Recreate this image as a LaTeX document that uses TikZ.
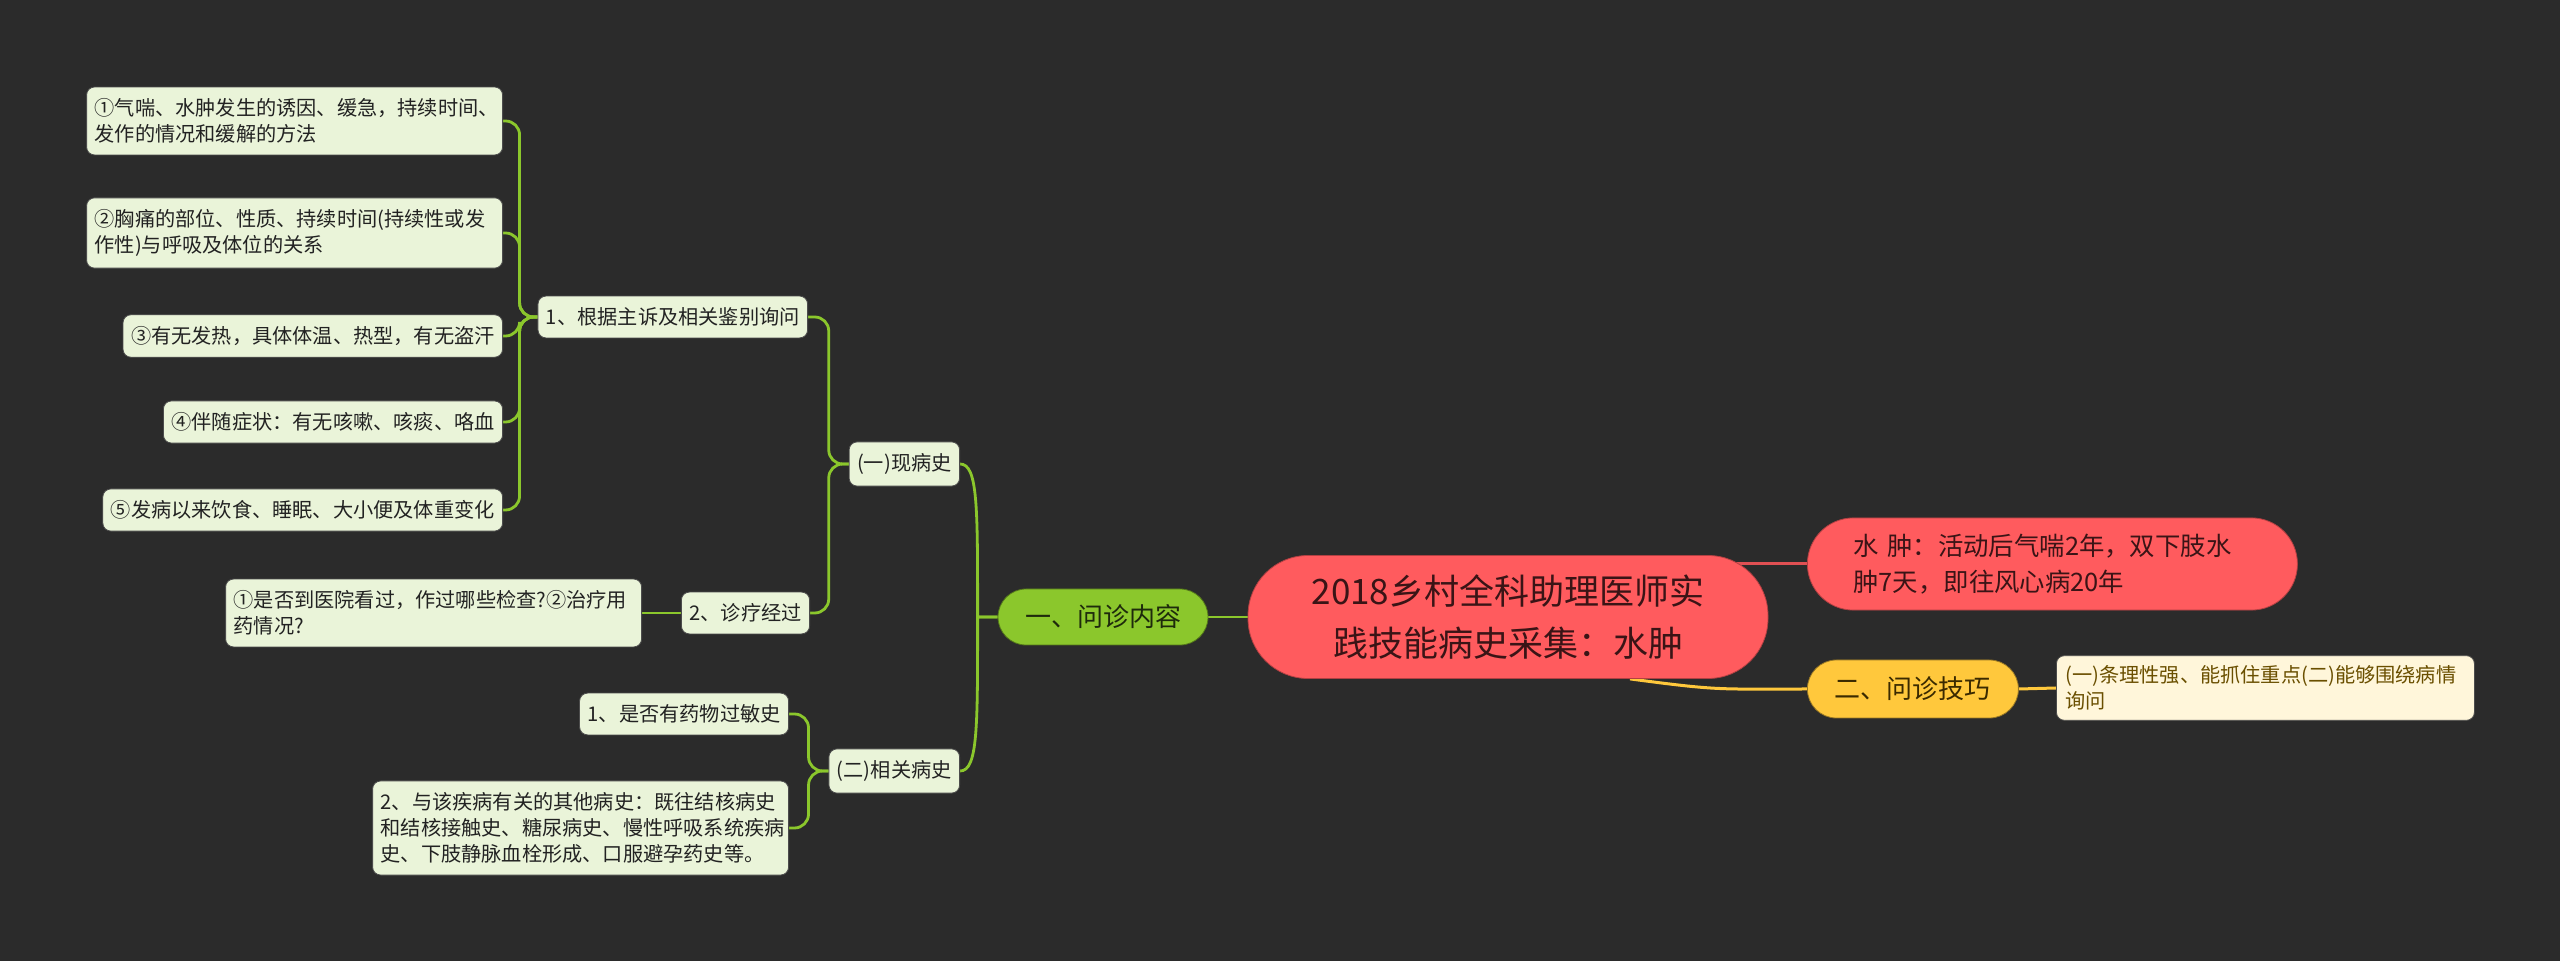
\documentclass[tikz,border=0pt]{standalone}
\usepackage{fontspec}
\setmainfont{Noto Sans CJK SC}
\usetikzlibrary{backgrounds}

\definecolor{bgdark}{HTML}{2B2B2B}
\definecolor{rootred}{HTML}{FF5B5E}
\definecolor{redtext}{HTML}{3A1416}
\definecolor{lvgreen}{HTML}{8BC72C}
\definecolor{greentext}{HTML}{1E2A0C}
\definecolor{leafgreen}{HTML}{EAF4D9}
\definecolor{leaftext}{HTML}{222222}
\definecolor{topicyel}{HTML}{FFC83C}
\definecolor{yeltext}{HTML}{3A2A00}
\definecolor{creamfill}{HTML}{FFF6DA}
\definecolor{creamtext}{HTML}{6A4F00}

\tikzset{
  root/.style={fill=rootred, draw=rootred!70!black, line width=0.4pt, text=redtext,
    rounded corners=30pt, minimum width=260pt, minimum height=61.5pt,
    align=center, font=\fontsize{17.5}{26}\selectfont},
  redtopic/.style={fill=rootred, draw=rootred!70!black, line width=0.4pt, text=redtext,
    rounded corners=23pt, text width=199pt, inner xsep=23pt, inner ysep=8pt,
    align=left, font=\fontsize{12.7}{18}\selectfont},
  greentopic/.style={fill=lvgreen, draw=lvgreen!60!black, line width=0.4pt, text=greentext,
    rounded corners=14pt, minimum width=105pt, minimum height=28pt,
    font=\fontsize{13}{16}\selectfont},
  yeltopic/.style={fill=topicyel, draw=topicyel!60!black, line width=0.4pt, text=yeltext,
    rounded corners=14.5pt, minimum width=105.5pt, minimum height=29pt,
    font=\fontsize{13}{16}\selectfont},
  leaf/.style={fill=leafgreen, draw=black!70, line width=0.4pt, text=leaftext,
    rounded corners=4pt, inner xsep=4pt, inner ysep=5.8pt, align=left,
    font=\fontsize{10.1}{13}\selectfont},
  wideleaf/.style={leaf, text width=200pt},
  creamleaf/.style={fill=creamfill, draw=black!70, line width=0.4pt, text=creamtext,
    rounded corners=4pt, inner xsep=4.5pt, inner ysep=5pt, text width=200pt,
    align=left, font=\fontsize{10.1}{13}\selectfont},
  elbow/.style={draw=lvgreen, line width=1.4pt, rounded corners=7pt},
  curvy/.style={draw=lvgreen, line width=1.4pt},
  redconn/.style={draw=rootred!88!black, line width=1.5pt},
  yelconn/.style={draw=topicyel, line width=1.5pt},
}

\begin{document}
\begin{tikzpicture}[x=0.5pt,y=-0.5pt]
  \useasboundingbox (0,0) rectangle (2560,961);
  \begin{scope}[on background layer]
    \fill[bgdark] (0,0) rectangle (2560,961);
  \end{scope}

  % centre and right side
  \node[root] (root) at (1508,617) {2018乡村全科助理医师实\\践技能病史采集：水肿};
  \node[redtopic, anchor=west] (shz) at (1807,564) {水 肿：活动后气喘2年，双下肢水\\肿7天，即往风心病20年};
  \node[yeltopic, anchor=west] (jq) at (1807,689) {二、问诊技巧};
  \node[creamleaf, anchor=west] (jqy) at (2056,688) {(一)条理性强、能抓住重点(二)能够围绕病情\\询问};

  % left side
  \node[greentopic] (nr) at (1103,617) {一、问诊内容};
  \node[leaf, anchor=east] (xbs) at (960,464) {(一)现病史};
  \node[leaf, anchor=east] (xgbs) at (960,771) {(二)相关病史};

  \node[leaf, anchor=east] (zs) at (808,317) {1、根据主诉及相关鉴别询问};
  \node[leaf, anchor=east] (zl) at (810,613) {2、诊疗经过};

  \node[wideleaf, anchor=east] (zsa) at (503,121) {①气喘、水肿发生的诱因、缓急，持续时间、\\发作的情况和缓解的方法};
  \node[wideleaf, anchor=east] (zsb) at (503,233) {②胸痛的部位、性质、持续时间(持续性或发\\作性)与呼吸及体位的关系};
  \node[leaf, anchor=east] (zsc) at (503,336) {③有无发热，具体体温、热型，有无盗汗};
  \node[leaf, anchor=east] (zsd) at (503,422) {④伴随症状：有无咳嗽、咳痰、咯血};
  \node[leaf, anchor=east] (zse) at (503,510) {⑤发病以来饮食、睡眠、大小便及体重变化};

  \node[wideleaf, anchor=east] (zla) at (642,613) {①是否到医院看过，作过哪些检查?②治疗用\\药情况?};

  \node[leaf, anchor=east] (gm) at (789,714) {1、是否有药物过敏史};
  \node[wideleaf, anchor=east] (qt) at (789,828) {2、与该疾病有关的其他病史：既往结核病史\\和结核接触史、糖尿病史、慢性呼吸系统疾病\\史、下肢静脉血栓形成、口服避孕药史等。};

  \begin{scope}[on background layer]
    \draw[redconn] (root.center |- shz.west) -- (shz.west);
    \draw[yelconn] ([xshift=61pt]root.south) .. controls +(45pt,-6pt) and +(-45pt,0) .. (jq.west);
    \draw[yelconn] (jq.east) -- (jqy.west);

    \draw[curvy] (root.west) -- (nr.east);
    \draw[curvy] (nr.west) -- ([xshift=-10pt]nr.west) .. controls +(0,55pt) and +(9pt,0) .. (xbs.east);
    \draw[curvy] (nr.west) -- ([xshift=-10pt]nr.west) .. controls +(0,-55pt) and +(9pt,0) .. (xgbs.east);

    \draw[elbow] (zs.east) -| ([xshift=-10pt]xbs.west) [sharp corners] -- (xbs.west);
    \draw[elbow] (zl.east) -| ([xshift=-10pt]xbs.west) [sharp corners] -- (xbs.west);

    \draw[elbow] (zsa.east) -| ([xshift=-9pt]zs.west) [sharp corners] -- (zs.west);
    \draw[elbow] (zsb.east) -| ([xshift=-9pt]zs.west) [sharp corners] -- (zs.west);
    \draw[elbow] (zsc.east) -| ([xshift=-9pt]zs.west) [sharp corners] -- (zs.west);
    \draw[elbow] (zsd.east) -| ([xshift=-9pt]zs.west) [sharp corners] -- (zs.west);
    \draw[elbow] (zse.east) -| ([xshift=-9pt]zs.west) [sharp corners] -- (zs.west);

    \draw[elbow] (zla.east) -- (zl.west);

    \draw[elbow] (gm.east) -| ([xshift=-10pt]xgbs.west) [sharp corners] -- (xgbs.west);
    \draw[elbow] (qt.east) -| ([xshift=-10pt]xgbs.west) [sharp corners] -- (xgbs.west);
  \end{scope}
\end{tikzpicture}
\end{document}
